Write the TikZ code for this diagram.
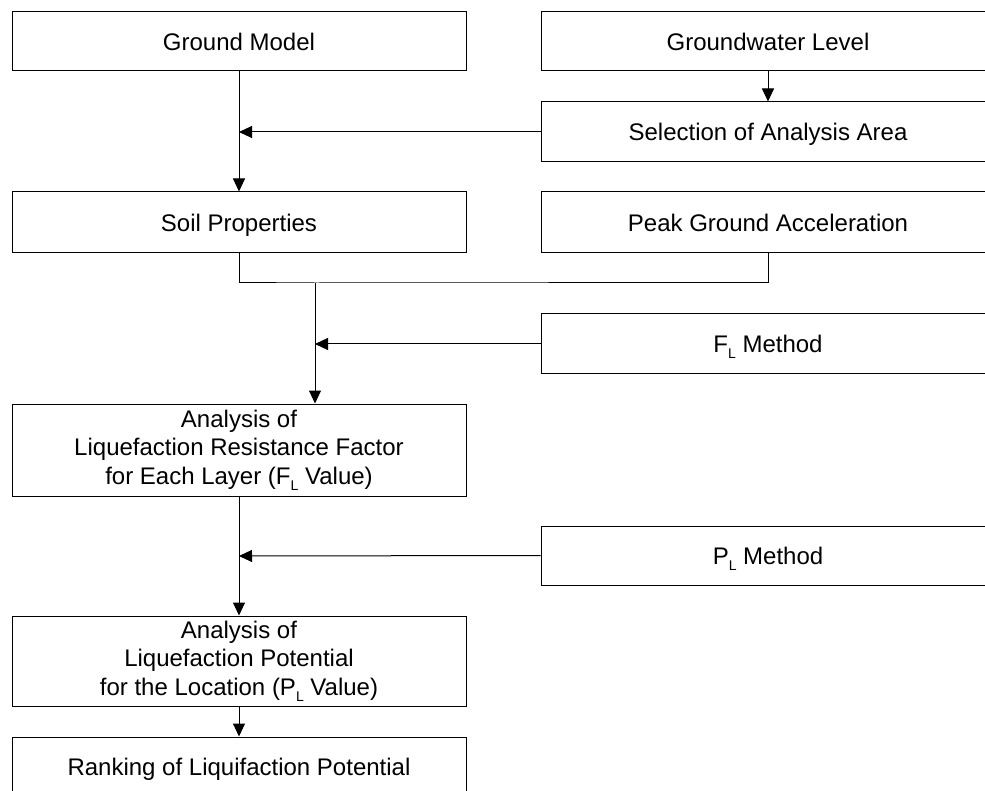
\documentclass[tikz,border=0pt]{standalone}
\usepackage{fontspec}
\setmainfont{Liberation Sans}
\usetikzlibrary{arrows.meta}
\newcommand{\subL}{\raisebox{-6pt}{\fontsize{14}{14}\selectfont L}}
\begin{document}
\begin{tikzpicture}[x=1pt,y=-1pt,
  box/.style={draw=black,line width=1pt,inner sep=0pt,align=center,
    minimum width=454pt,font=\fontsize{24}{28.5}\selectfont},
  one/.style={text height=17.2pt,text depth=0pt},
  conn/.style={line width=1pt,draw=black},
  arr/.style={conn,-{Triangle[length=13pt,width=12pt]}}]
\useasboundingbox (0,0) rectangle (985,791);
\clip (0,0) rectangle (985,791);
% left column
\node[box,one,minimum height=59pt] (gm) at (239,41.5) {Ground Model};
\node[box,one,minimum height=61pt] (soil) at (239,222.5) {Soil Properties};
\node[box,minimum height=92pt] (a1) at (239,450) {Analysis of\\Liquefaction Resistance Factor\\for Each Layer (F\subL{} Value)};
\node[box,minimum height=90pt] (a2) at (239,661) {Analysis of\\Liquefaction Potential\\for the Location (P\subL{} Value)};
\node[box,one,minimum height=60pt] (rank) at (239,767) {Ranking of Liquifaction Potential};
% right column
\node[box,one,minimum height=59pt] (gw) at (768,41.5) {Groundwater Level};
\node[box,one,minimum height=60pt] (sel) at (768,132) {Selection of Analysis Area};
\node[box,one,minimum height=61pt] (pga) at (768,222.5) {Peak Ground Acceleration};
\node[box,one,minimum height=60pt] (fl) at (768,344) {F\subL{} Method};
\node[box,one,minimum height=59pt] (pl) at (768,555.5) {P\subL{} Method};
% junction coordinates
\coordinate (j1) at (239,132);
\coordinate (j2) at (315,283);
\coordinate (j3) at (315,344);
\coordinate (j4) at (239,556);
% connectors
\draw[arr] (gm.south) -- (soil.north);
\draw[arr] (sel.west) -- (j1);
\draw[arr] (gw.south) -- (sel.north);
\draw[conn] (soil.south) |- (j2) -| (pga.south);
\draw[arr] (j2) -- (j2 |- a1.north);
\draw[arr] (fl.west) -- (j3);
\draw[arr] (a1.south) -- (a2.north);
\draw[arr] (pl.west) -- (j4);
\draw[arr] (a2.south) -- (rank.north);
\end{tikzpicture}
\end{document}
